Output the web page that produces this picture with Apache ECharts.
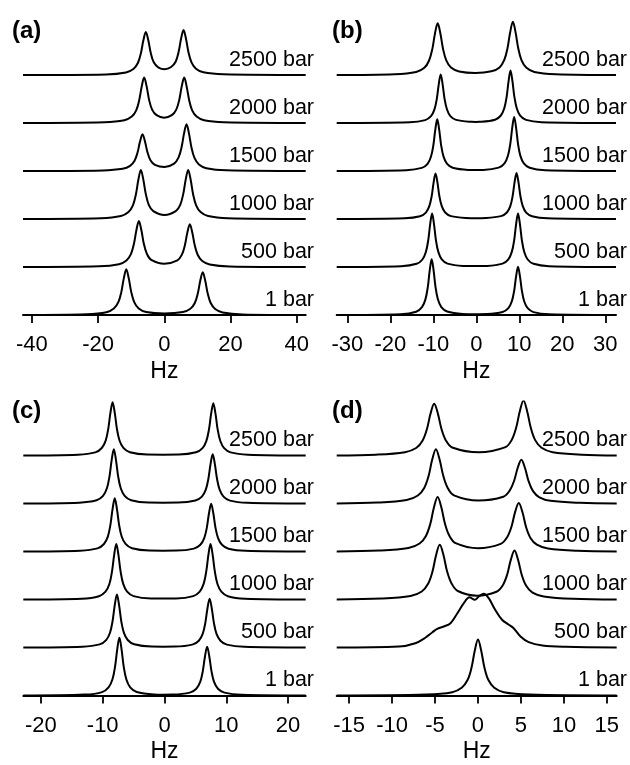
<!DOCTYPE html>
<html lang="en">
<head>
<meta charset="UTF-8">
<title>Spectra vs pressure</title>
<script src="https://cdn.jsdelivr.net/npm/echarts@6/dist/echarts.min.js"></script>
<style>
  html, body { margin: 0; padding: 0; background: #fff; }
  #main { width: 630px; height: 765px; }
</style>
</head>
<body>
<div id="main"></div>
<script>
// row names, bottom to top, and the vertical offset of each stacked trace
var pressures = ['1 bar', '500 bar', '1000 bar', '1500 bar', '2000 bar', '2500 bar'];
var rowOffset = [0, 48, 96, 144, 192, 240];

// x ticks and x range of every panel
var ticksA = [-40, -20, 0, 20, 40];
var ticksB = [-30, -20, -10, 0, 10, 20, 30];
var ticksC = [-20, -10, 0, 10, 20];
var ticksD = [-15, -10, -5, 0, 5, 10, 15];
var rangeA = [-42.7, 42.7];
var rangeB = [-32.5, 32.5];
var rangeC = [-22.85, 22.85];
var rangeD = [-16.45, 16.15];

// traces: [Hz, intensity above own baseline]
// panel (a)
var a1 = [[-42.7,0],[-23.5,0.7],[-17.5,2.7],[-15.25,6.4],[-13.9,12.8],[-13,22.9],[-12.25,36.6],[-11.5,45.7],[-10.75,36.6],[-10,22.9],[-9.1,12.9],[-7.75,6.5],[-5.5,3],[0,1.5],[5.6,2.9],[7.85,6.2],[9.2,12],[10.1,21.4],[10.85,34.2],[11.6,42.7],[12.35,34.2],[13.1,21.4],[14,12],[15.35,6],[17.6,2.6],[23.6,0.6],[42.7,0]];
var a500 = [[-42.7,0],[-19.7,0.7],[-13.7,2.8],[-11.45,6.5],[-10.1,12.9],[-9.2,23],[-8.45,36.8],[-7.7,46],[-6.95,37],[-6.2,23.3],[-5.3,13.3],[-3.95,7.1],[0,3.3],[3.95,6.7],[5.3,12.4],[6.2,21.7],[6.95,34.4],[7.7,42.7],[8.45,34.2],[9.2,21.4],[10.1,12],[11.45,6],[13.7,2.6],[19.7,0.6],[42.7,0]];
var a1000 = [[-42.7,0],[-19.1,0.7],[-13.1,2.9],[-10.85,6.9],[-9.5,13.7],[-8.6,24.5],[-7.85,39.2],[-7.1,49],[-6.35,39.4],[-5.6,24.9],[-4.7,14.2],[-3.35,7.9],[0.05,4.1],[3.45,7.9],[4.8,14.2],[5.7,24.9],[6.45,39.4],[7.2,49],[7.95,39.2],[8.7,24.5],[9.6,13.7],[10.95,6.9],[13.2,2.9],[19.2,0.7],[42.7,0]];
var a1500 = [[-42.7,0],[-18.6,0.6],[-12.6,2.2],[-10.35,5.1],[-9,10.3],[-8.1,18.4],[-7.35,29.4],[-6.6,36.7],[-5.85,29.5],[-5.1,18.7],[-4.2,10.8],[-2.85,6.2],[0.05,4],[2.95,7.4],[4.3,13.6],[5.2,23.7],[5.95,37.6],[6.7,46.7],[7.45,37.4],[8.2,23.4],[9.1,13.1],[10.45,6.5],[12.7,2.8],[18.7,0.7],[42.7,0]];
var a2000 = [[-42.7,0],[-18.1,0.7],[-12.1,2.7],[-9.85,6.4],[-8.5,12.7],[-7.6,22.7],[-6.85,36.3],[-6.1,45.4],[-5.35,36.6],[-4.6,23.1],[-3.7,13.4],[-2.35,7.8],[-0.05,5.3],[2.25,7.8],[3.6,13.4],[4.5,23.1],[5.25,36.6],[6,45.4],[6.75,36.3],[7.5,22.7],[8.4,12.7],[9.75,6.4],[12,2.7],[18,0.7],[42.7,0]];
var a2500 = [[-42.7,0],[-17.6,0.6],[-11.6,2.6],[-9.35,6],[-8,12],[-7.1,21.5],[-6.35,34.4],[-5.6,43],[-4.85,34.7],[-4.1,21.9],[-3.2,12.7],[-1.85,7.7],[0.1,5.7],[2.05,8],[3.4,13.3],[4.3,22.9],[5.05,36.3],[5.8,45],[6.55,36],[7.3,22.5],[8.2,12.6],[9.55,6.3],[11.8,2.7],[17.8,0.7],[42.7,0]];

// panel (b)
var b1 = [[-32.5,0],[-17.6,0.8],[-14,3.3],[-12.65,7.8],[-11.85,15.6],[-11.3,27.9],[-10.85,44.6],[-10.4,55.7],[-9.95,44.6],[-9.5,27.9],[-8.95,15.7],[-8.15,7.9],[-6.8,3.5],[-3.2,1.1],[-0.35,0.85],[2.5,1],[6.1,3],[7.45,6.9],[8.25,13.6],[8.8,24.2],[9.25,38.6],[9.7,48.3],[10.15,38.6],[10.6,24.2],[11.15,13.5],[11.95,6.8],[13.3,2.9],[16.9,0.7],[32.5,0]];
var b500 = [[-32.5,0],[-17.5,0.8],[-13.9,3.2],[-12.55,7.5],[-11.75,15],[-11.2,26.7],[-10.75,42.7],[-10.3,53.4],[-9.85,42.7],[-9.4,26.7],[-8.85,15.1],[-8.05,7.6],[-6.7,3.4],[-3.1,1.1],[-0.3,0.9],[2.5,1.1],[6.1,3.4],[7.45,7.6],[8.25,15.1],[8.8,26.7],[9.25,42.7],[9.7,53.4],[10.15,42.7],[10.6,26.7],[11.15,15],[11.95,7.5],[13.3,3.2],[16.9,0.8],[32.5,0]];
var b1000 = [[-32.5,0],[-16.7,0.7],[-13.1,2.7],[-11.75,6.4],[-10.95,12.8],[-10.4,22.8],[-9.95,36.4],[-9.5,45.5],[-9.05,36.4],[-8.6,22.8],[-8.05,12.9],[-7.25,6.5],[-5.9,2.9],[-2.3,1],[-0.1,0.8],[2.15,1],[5.75,2.9],[7.1,6.5],[7.9,12.9],[8.45,23],[8.9,36.8],[9.35,46],[9.8,36.8],[10.25,23],[10.8,12.9],[11.6,6.4],[12.95,2.8],[16.55,0.7],[32.5,0]];
var b1500 = [[-32.5,0],[-16.3,0.8],[-12.7,3.1],[-11.35,7.2],[-10.55,14.5],[-10,25.9],[-9.55,41.4],[-9.1,51.7],[-8.65,41.4],[-8.2,25.9],[-7.65,14.6],[-6.85,7.3],[-5.5,3.2],[-1.9,1.1],[-0.15,1],[1.6,1.1],[5.2,3.4],[6.55,7.7],[7.35,15.2],[7.9,27],[8.35,43.2],[8.8,54],[9.25,43.2],[9.7,27],[10.25,15.1],[11.05,7.6],[12.4,3.2],[16,0.8],[32.5,0]];
var b2000 = [[-32.5,0],[-15.5,0.7],[-11.9,2.9],[-10.55,6.8],[-9.75,13.6],[-9.2,24.2],[-8.75,38.7],[-8.3,48.4],[-7.85,38.7],[-7.4,24.2],[-6.85,13.7],[-6.05,6.9],[-4.7,3.1],[-1.1,1.2],[-0.15,1.1],[0.75,1.2],[4.35,3.3],[5.7,7.5],[6.5,14.8],[7.05,26.2],[7.5,41.9],[7.95,52.4],[8.4,41.9],[8.85,26.2],[9.4,14.7],[10.2,7.3],[11.55,3.1],[15.15,0.8],[32.5,0]];
var b2500 = [[-32.5,0],[-19,0.8],[-14,3.1],[-12.1,7.2],[-11,14.5],[-10.25,25.9],[-9.63,41.4],[-9,51.7],[-8.37,41.5],[-7.75,26],[-7,14.7],[-5.9,7.5],[-4,3.6],[-0.25,2.1],[3.5,3.7],[5.4,7.6],[6.5,15.1],[7.25,26.8],[7.87,42.7],[8.5,53.3],[9.13,42.6],[9.75,26.7],[10.5,14.9],[11.6,7.5],[13.5,3.1],[18.5,0.8],[32.5,0]];

// panel (c)
var c1 = [[-22.85,0],[-12.9,0.9],[-10.1,3.4],[-9.05,8.1],[-8.42,16.2],[-8,28.9],[-7.65,46.2],[-7.3,57.7],[-6.95,46.2],[-6.6,28.9],[-6.18,16.2],[-5.55,8.1],[-4.5,3.5],[-1.7,1],[-0.2,0.8],[1.3,0.9],[4.1,2.9],[5.15,6.8],[5.78,13.6],[6.2,24.4],[6.55,39],[6.9,48.7],[7.25,39],[7.6,24.4],[8.02,13.6],[8.65,6.8],[9.7,2.9],[12.5,0.7],[22.85,0]];
var c500 = [[-22.85,0],[-13.3,0.8],[-10.5,3.1],[-9.45,7.4],[-8.82,14.8],[-8.4,26.5],[-8.05,42.4],[-7.7,53],[-7.35,42.4],[-7,26.5],[-6.58,14.9],[-5.95,7.5],[-4.9,3.2],[-2.1,0.9],[-0.2,0.8],[1.7,0.9],[4.5,2.9],[5.55,6.8],[6.18,13.6],[6.6,24.4],[6.95,39],[7.3,48.7],[7.65,39],[8,24.4],[8.42,13.6],[9.05,6.8],[10.1,2.9],[12.9,0.7],[22.85,0]];
var c1000 = [[-22.85,0],[-13.4,0.8],[-10.6,3.3],[-9.55,7.8],[-8.92,15.5],[-8.5,27.8],[-8.15,44.4],[-7.8,55.5],[-7.45,44.4],[-7.1,27.8],[-6.68,15.6],[-6.05,7.9],[-5,3.4],[-2.2,1],[-0.2,0.9],[1.85,1],[4.65,3.4],[5.7,7.9],[6.33,15.6],[6.75,27.8],[7.1,44.4],[7.45,55.5],[7.8,44.4],[8.15,27.8],[8.57,15.5],[9.2,7.8],[10.25,3.3],[13.05,0.8],[22.85,0]];
var c1500 = [[-22.85,0],[-13.65,0.8],[-10.85,3.1],[-9.8,7.5],[-9.17,14.9],[-8.75,26.7],[-8.4,42.6],[-8.05,53.3],[-7.7,42.6],[-7.35,26.7],[-6.93,15],[-6.3,7.6],[-5.25,3.2],[-2.45,0.9],[-0.25,0.8],[1.95,0.9],[4.75,2.9],[5.8,6.7],[6.43,13.4],[6.85,23.9],[7.2,38.2],[7.55,47.7],[7.9,38.2],[8.25,23.9],[8.67,13.4],[9.3,6.7],[10.35,2.8],[13.15,0.7],[22.85,0]];
var c2000 = [[-22.85,0],[-13.8,0.8],[-11,3.2],[-9.95,7.6],[-9.32,15.2],[-8.9,27.2],[-8.55,43.4],[-8.2,54.3],[-7.85,43.4],[-7.5,27.2],[-7.08,15.3],[-6.45,7.7],[-5.4,3.3],[-2.6,0.9],[-0.2,0.8],[2.2,0.9],[5,3],[6.05,6.9],[6.68,13.8],[7.1,24.7],[7.45,39.4],[7.8,49.3],[8.15,39.4],[8.5,24.7],[8.92,13.8],[9.55,6.9],[10.6,2.9],[13.4,0.7],[22.85,0]];
var c2500 = [[-22.85,0],[-14,0.8],[-11.2,3.1],[-10.15,7.5],[-9.52,14.9],[-9.1,26.7],[-8.75,42.6],[-8.4,53.3],[-8.05,42.6],[-7.7,26.7],[-7.28,15],[-6.65,7.6],[-5.6,3.2],[-2.8,0.9],[-0.25,0.8],[2.3,0.9],[5.1,3.2],[6.15,7.4],[6.78,14.7],[7.2,26.2],[7.55,41.8],[7.9,52.3],[8.25,41.8],[8.6,26.2],[9.02,14.7],[9.65,7.3],[10.7,3.1],[13.5,0.8],[22.85,0]];

// panel (d)
var d1 = [[-16.45,0],[-6,0.9],[-3,3.3],[-1.9,7.7],[-1.2,15.7],[-0.75,28],[-0.375,44.8],[0,56],[0.375,44.8],[0.75,28],[1.2,15.7],[1.9,7.7],[3,3.3],[6,0.9],[16.15,0]];
var d500 = [[-16.45,0],[-9.2,1],[-7.3,4.3],[-6.1,10],[-5.3,15.3],[-4.75,18.7],[-4,21],[-3.2,24.3],[-2.4,34.3],[-1.65,44.3],[-1,50.3],[-0.37,47.7],[0.1,51],[0.67,53.7],[1.25,49.3],[2,37.7],[2.8,27.7],[3.6,22.7],[4.15,19.3],[4.95,11],[5.9,5.3],[7.5,2],[10.2,0.7],[16.15,0]];
var d1000 = [[-16.45,0],[-11.25,0.9],[-7.85,3.5],[-6.55,8],[-5.81,15.7],[-5.3,27.9],[-4.88,44.3],[-4.45,54.7],[-4.02,44.5],[-3.6,28.2],[-3.09,16.3],[-2.35,8.5],[-0.1,3.8],[2.15,7.8],[2.89,14.3],[3.4,25],[3.82,39.6],[4.25,49],[4.68,39.2],[5.1,24.5],[5.61,13.7],[6.35,6.9],[7.65,3.1],[11.05,0.7],[16.15,0]];
var d1500 = [[-16.45,0],[-11.5,0.9],[-8.1,3.5],[-6.8,8],[-6.06,15.6],[-5.55,27.7],[-5.13,44],[-4.7,54.4],[-4.27,44.2],[-3.85,28],[-3.34,15.9],[-2.6,8.3],[0,3.2],[2.65,7.6],[3.39,14.2],[3.9,24.8],[4.32,39.4],[4.75,48.4],[5.18,39.2],[5.6,24.4],[6.11,13.6],[6.85,6.8],[8.15,3],[11.55,0.7],[16.15,0]];
var d2000 = [[-16.45,0],[-11.7,0.9],[-8.3,3.5],[-7,8],[-6.26,15.5],[-5.75,27.6],[-5.33,43.9],[-4.9,54.3],[-4.47,44.1],[-4.05,27.9],[-3.54,15.8],[-2.8,8.2],[0.05,3],[2.95,6.8],[3.69,12.9],[4.2,22.5],[4.62,35.5],[5.05,43.7],[5.48,35.3],[5.9,22.1],[6.41,12.4],[7.15,6.2],[8.45,2.7],[11.85,0.7],[16.15,0]];
var d2500 = [[-16.45,0],[-11.9,0.8],[-8.5,3.3],[-7.2,7.5],[-6.46,14.8],[-5.95,26.2],[-5.53,41.7],[-5.1,51.7],[-4.67,41.9],[-4.25,26.5],[-3.74,15.1],[-3,8],[0.1,3.2],[3.2,8.4],[3.94,15.8],[4.45,27.9],[4.87,44.2],[5.3,55],[5.73,44],[6.15,27.7],[6.66,15.4],[7.4,7.7],[8.7,3.3],[12.1,0.8],[16.15,0]];

var FONT = '"Liberation Sans", Arial, sans-serif';

var panels = [
  { tag: '(a)', spectra: [a1, a500, a1000, a1500, a2000, a2500], ticks: ticksA, range: rangeA,
    grid: { left: 23, top: 21, width: 282.7, height: 300 }, tagXY: [12, 31], labelRight: 314 },
  { tag: '(b)', spectra: [b1, b500, b1000, b1500, b2000, b2500], ticks: ticksB, range: rangeB,
    grid: { left: 336.7, top: 21, width: 279.3, height: 300 }, tagXY: [332, 31], labelRight: 627 },
  { tag: '(c)', spectra: [c1, c500, c1000, c1500, c2000, c2500], ticks: ticksC, range: rangeC,
    grid: { left: 23.3, top: 401.5, width: 282.4, height: 300 }, tagXY: [12, 411.5], labelRight: 314 },
  { tag: '(d)', spectra: [d1, d500, d1000, d1500, d2000, d2500], ticks: ticksD, range: rangeD,
    grid: { left: 336.7, top: 401.5, width: 280, height: 300 }, tagXY: [332, 411.5], labelRight: 627 }
];

var chart = echarts.init(document.getElementById('main'));

var grids = [], xAxes = [], yAxes = [], series = [];
panels.forEach(function (p, i) {
  grids.push(p.grid);
  xAxes.push({
    gridIndex: i, type: 'value', min: p.range[0], max: p.range[1],
    axisLine: { lineStyle: { color: '#000', width: 2 } },
    axisTick: { customValues: p.ticks, length: 8, lineStyle: { color: '#000', width: 1.8 } },
    axisLabel: { customValues: p.ticks, color: '#000', fontSize: 22, fontFamily: FONT, margin: 13 },
    splitLine: { show: false },
    name: 'Hz', nameLocation: 'middle', nameGap: 39,
    nameTextStyle: { color: '#000', fontSize: 23, fontFamily: FONT }
  });
  yAxes.push({ gridIndex: i, type: 'value', min: -6, max: 294, show: false });
  p.spectra.forEach(function (trace, r) {
    series.push({
      type: 'line', xAxisIndex: i, yAxisIndex: i,
      data: trace.map(function (pt) { return [pt[0], pt[1] + rowOffset[r]]; }),
      showSymbol: false, smooth: 0.35, silent: true,
      lineStyle: { color: '#000', width: 2 }
    });
  });
});

chart.setOption({
  animation: false,
  backgroundColor: '#fff',
  grid: grids, xAxis: xAxes, yAxis: yAxes, series: series
});

// text: panel tags and pressure labels placed next to each trace
var texts = [];
panels.forEach(function (p, i) {
  texts.push({
    type: 'text', x: p.tagXY[0], y: p.tagXY[1],
    style: { text: p.tag, fill: '#000', font: 'bold 24px ' + FONT, textAlign: 'left', textVerticalAlign: 'middle' }
  });
  pressures.forEach(function (name, r) {
    var pix = chart.convertToPixel({ gridIndex: i }, [p.range[1], rowOffset[r]]);
    texts.push({
      type: 'text', x: p.labelRight, y: pix[1] - 15,
      style: { text: name, fill: '#000', font: '21.5px ' + FONT, textAlign: 'right', textVerticalAlign: 'middle' }
    });
  });
});
chart.setOption({ graphic: texts });
</script>
</body>
</html>
